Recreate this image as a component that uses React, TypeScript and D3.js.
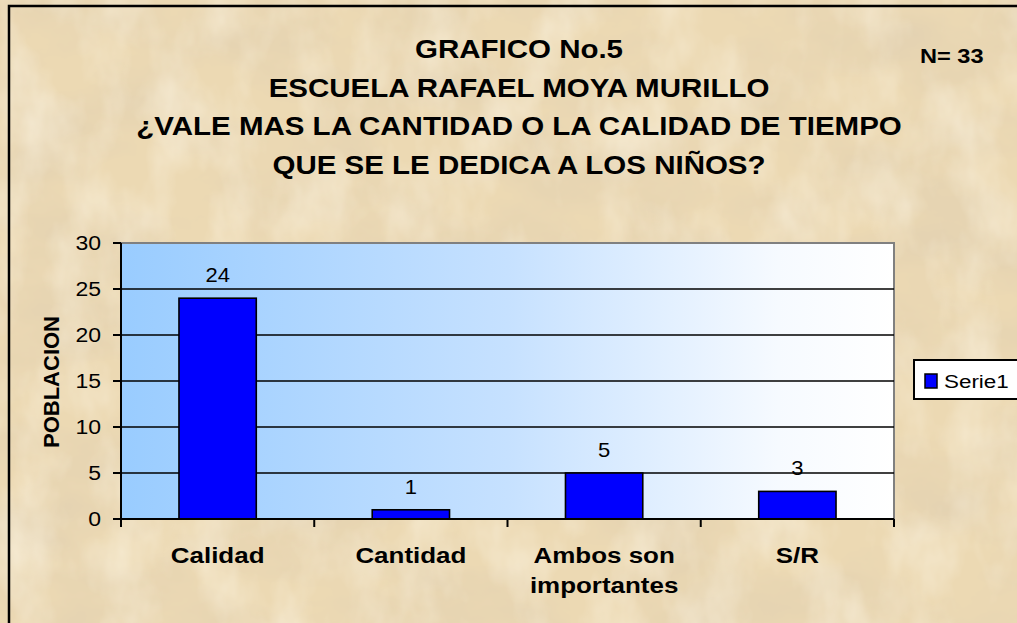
import React from "react";
import * as d3 from "d3";

const categories: string[][] = [["Calidad"], ["Cantidad"], ["Ambos son", "importantes"], ["S/R"]];
const values: number[] = [24, 1, 5, 3];
const yTicks: number[] = [0, 5, 10, 15, 20, 25, 30];
const titleLines: string[] = [
  "GRAFICO No.5",
  "ESCUELA RAFAEL MOYA MURILLO",
  "¿VALE MAS LA CANTIDAD O LA CALIDAD DE TIEMPO",
  "QUE SE LE DEDICA A LOS NIÑOS?",
];
const seriesName = "Serie1";
const nLabel = "N= 33";
const yAxisTitle = "POBLACION";

const W = 1017;
const H = 623;
const FONT = "'Liberation Sans', Arial, Helvetica, sans-serif";
const SX = 1.18;

const plot = { left: 121, right: 894, top: 243, bottom: 519 };

function T(props: {
  x: number;
  y: number;
  size: number;
  bold?: boolean;
  anchor?: "start" | "middle" | "end";
  sx?: number;
  rotate?: number;
  children: React.ReactNode;
}) {
  const { x, y, size, bold, anchor = "middle", sx = SX, rotate } = props;
  const tr = rotate
    ? `translate(${x},${y}) rotate(${rotate})`
    : `translate(${x},${y}) scale(${sx},1)`;
  return (
    <text
      transform={tr}
      fontFamily={FONT}
      fontSize={size}
      fontWeight={bold ? "bold" : "normal"}
      textAnchor={anchor}
      fill="#000"
    >
      {props.children}
    </text>
  );
}

export default function App() {
  const x = d3
    .scaleBand<number>()
    .domain(values.map((_, i) => i))
    .range([plot.left, plot.right])
    .paddingInner(0.6)
    .paddingOuter(0.3);
  const y = d3.scaleLinear().domain([0, 30]).range([plot.bottom, plot.top]);
  const step = (plot.right - plot.left) / categories.length;

  return (
    <svg
      width={W}
      height={H}
      style={{ position: "absolute", left: 0, top: 0, display: "block" }}
    >
      <defs>
        <filter id="parch" x="0" y="0" width="100%" height="100%">
          <feTurbulence type="fractalNoise" baseFrequency="0.008 0.014" numOctaves={5} seed={7} result="n" />
          <feColorMatrix
            in="n"
            type="matrix"
            values="0 0 0 0 0.74  0 0 0 0 0.62  0 0 0 0 0.44  1.3 0 0 0 -0.5"
          />
        </filter>
        <filter id="parch2" x="0" y="0" width="100%" height="100%">
          <feTurbulence type="fractalNoise" baseFrequency="0.02 0.012" numOctaves={4} seed={3} result="n" />
          <feColorMatrix
            in="n"
            type="matrix"
            values="0 0 0 0 0.99  0 0 0 0 0.94  0 0 0 0 0.82  1.0 0 0 0 -0.42"
          />
        </filter>
        <linearGradient id="plotGrad" x1="0" x2="1" y1="0" y2="0">
          <stop offset="0" stopColor="#99ccff" />
          <stop offset="0.5" stopColor="#c6e1ff" />
          <stop offset="0.85" stopColor="#f6faff" />
          <stop offset="1" stopColor="#ffffff" />
        </linearGradient>
      </defs>

      {/* background */}
      <rect x={0} y={0} width={W} height={H} fill="#ecd9b3" />
      <rect x={0} y={0} width={W} height={H} filter="url(#parch)" />
      <rect x={0} y={0} width={W} height={H} filter="url(#parch2)" />
      <rect x={9} y={6} width={W + 20} height={H + 20} fill="none" stroke="#000" strokeWidth={2.5} />

      {/* title */}
      {titleLines.map((t, i) => (
        <T key={i} x={519} y={58 + i * 38.5} size={25} bold>
          {t}
        </T>
      ))}
      <T x={920} y={63} size={20} bold anchor="start">
        {nLabel}
      </T>

      {/* plot area */}
      <rect
        x={plot.left}
        y={plot.top}
        width={plot.right - plot.left}
        height={plot.bottom - plot.top}
        fill="url(#plotGrad)"
        stroke="#808080"
        strokeWidth={2}
      />
      {yTicks
        .filter((t) => t > 0 && t < 30)
        .map((t) => (
          <line
            key={t}
            x1={plot.left}
            x2={plot.right}
            y1={y(t)}
            y2={y(t)}
            stroke="#000"
            strokeWidth={1.6}
          />
        ))}

      {/* bars */}
      {values.map((v, i) => (
        <rect
          key={i}
          x={x(i)!}
          y={y(v)}
          width={x.bandwidth()}
          height={plot.bottom - y(v)}
          fill="#0000ff"
          stroke="#000"
          strokeWidth={1.6}
        />
      ))}
      {values.map((v, i) => (
        <T key={i} x={x(i)! + x.bandwidth() / 2} y={y(v) - 16} size={20} sx={1.1}>
          {v}
        </T>
      ))}

      {/* axes */}
      <line x1={plot.left} x2={plot.left} y1={plot.top} y2={plot.bottom} stroke="#000" strokeWidth={2} />
      <line x1={plot.left - 8} x2={plot.right} y1={plot.bottom} y2={plot.bottom} stroke="#000" strokeWidth={2} />
      {yTicks.map((t) => (
        <g key={t}>
          <line x1={plot.left - 8} x2={plot.left} y1={y(t)} y2={y(t)} stroke="#000" strokeWidth={2} />
          <T x={101} y={y(t) + 7} size={19.5} anchor="end">
            {t}
          </T>
        </g>
      ))}
      {d3.range(categories.length + 1).map((i) => (
        <line
          key={i}
          x1={plot.left + i * step}
          x2={plot.left + i * step}
          y1={plot.bottom}
          y2={plot.bottom + 8}
          stroke="#000"
          strokeWidth={2}
        />
      ))}
      {categories.map((lines, i) =>
        lines.map((l, j) => (
          <T key={`${i}-${j}`} x={x(i)! + x.bandwidth() / 2} y={563 + j * 30} size={22} bold>
            {l}
          </T>
        ))
      )}
      <T x={59} y={382} size={22} bold rotate={-90}>
        {yAxisTitle}
      </T>

      {/* legend */}
      <rect x={914} y={360} width={120} height={39} fill="#fff" stroke="#000" strokeWidth={2} />
      <rect x={925} y={374} width={12} height={14} fill="#0000ff" stroke="#000" strokeWidth={1.5} />
      <T x={944} y={388} size={19} anchor="start">
        {seriesName}
      </T>
    </svg>
  );
}
